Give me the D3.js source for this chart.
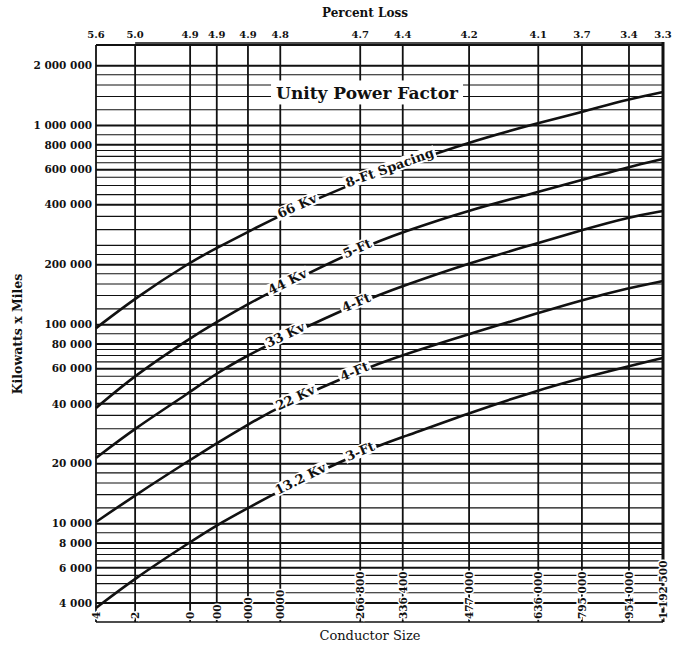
<!DOCTYPE html>
<html lang="en">
<head>
<meta charset="UTF-8">
<title>Kilowatts x Miles - Unity Power Factor</title>
<script src="https://cdn.jsdelivr.net/npm/d3@7/dist/d3.min.js"></script>
<style>
	body { margin: 0; background: #fff; }
	text { font-family: "DejaVu Serif", "Liberation Serif", serif; fill: #111; }
</style>
</head>
<body>
<div id="chart"></div>
<script>
// conductor sizes along the bottom
var sizes = ["4", "2", "0", "00", "000", "0000", "266 800", "336 400", "477 000", "636 000", "795 000", "954 000", "1 192 500"];
// where each size sits on the chart's conductor scale (% of scale length)
var sizePos = [0, 6.9, 16.6, 21.3, 26.8, 32.5, 46.6, 54.1, 65.8, 78.0, 85.7, 94.0, 100];
// percent loss printed above each size
var percentLoss = ["5.6", "5.0", "4.9", "4.9", "4.9", "4.8", "4.7", "4.4", "4.2", "4.1", "3.7", "3.4", "3.3"];

// kilowatt-miles for each voltage, one value per conductor size
var kv66  = [96000, 136000, 206000, 243000, 292000, 355000, 533000, 634000, 827000, 1031000, 1170000, 1360000, 1475000];
var kv44  = [38100, 55800, 85600, 103000, 127000, 154500, 242600, 292000, 376600, 463800, 533000, 619500, 679500];
var kv33  = [21400, 30200, 45800, 57100, 70200, 84700, 130000, 156300, 203900, 257000, 298800, 347300, 372300];
var kv22  = [10200, 13900, 20900, 25400, 31500, 39000, 59100, 70400, 89700, 114400, 132900, 152800, 165600];
var kv132 = [3770, 5330, 8080, 9840, 11980, 14700, 22900, 27200, 36000, 46900, 53900, 62000, 68000];

var curveNames   = ["66 Kv", "44 Kv", "33 Kv", "22 Kv", "13.2 Kv"];
var spacingNames = ["8-Ft Spacing", "5-Ft", "4-Ft", "4-Ft", "3-Ft"];
// label places, in conductor-scale units
var namePos    = [35.6, 33.9, 33.5, 35.3, 36.2];
var spacingPos = [51.9, 46.2, 46.0, 45.7, 46.7];

var yTicks = [4000, 6000, 8000, 10000, 20000, 40000, 60000, 80000, 100000,
	200000, 400000, 600000, 800000, 1000000, 2000000];

var W = 678, H = 649;
var pLeft = 96, pRight = 663, pTop = 45, pBottom = 612, axisBase = 622;

var svg = d3.select("#chart").append("svg")
	.attr("width", W).attr("height", H);

var x = d3.scaleLinear().domain([0, 100]).range([pLeft, pRight]);
var y = d3.scaleLog().domain([3600, 2540000]).range([pBottom, pTop]);

// horizontal grid (log paper)
var mant = [1, 1.2, 1.4, 1.6, 1.8, 2, 2.25, 2.5, 3, 3.5, 4, 4.5, 5, 5.5, 6, 6.5, 7, 7.5, 8, 9];
var gridVals = [];
for (var e = 3; e <= 6; e++) {
	mant.forEach(function(m){
		var v = m * Math.pow(10, e);
		if (v > 3600 && v <= 2000000) gridVals.push(v);
	});
}
svg.append("g").selectAll("line").data(gridVals).enter().append("line")
	.attr("x1", pLeft).attr("x2", pRight)
	.attr("y1", function(d){ return y(d); })
	.attr("y2", function(d){ return y(d); })
	.attr("stroke", "#111")
	.attr("stroke-width", function(d){ return yTicks.indexOf(d) >= 0 ? 2 : 1.1; });

// vertical grid at each conductor size
svg.append("g").selectAll("line").data(sizePos).enter().append("line")
	.attr("x1", function(d){ return x(d); })
	.attr("x2", function(d){ return x(d); })
	.attr("y1", pTop).attr("y2", axisBase)
	.attr("stroke", "#111").attr("stroke-width", 1.8);

// frame
svg.append("line").attr("x1", pLeft).attr("x2", pRight).attr("y1", pTop).attr("y2", pTop)
	.attr("stroke", "#111").attr("stroke-width", 2.2);
svg.append("line").attr("x1", x(sizePos[1])).attr("x2", pRight).attr("y1", pTop - 2).attr("y2", pTop - 2)
	.attr("stroke", "#111").attr("stroke-width", 1.6);
svg.append("line").attr("x1", pLeft).attr("x2", pRight).attr("y1", axisBase).attr("y2", axisBase)
	.attr("stroke", "#111").attr("stroke-width", 1.6);
svg.append("line").attr("x1", pRight).attr("x2", pRight).attr("y1", pTop - 3).attr("y2", axisBase)
	.attr("stroke", "#111").attr("stroke-width", 3);

// Unity Power Factor box
var upf = svg.append("g").attr("transform", "translate(" + x(47.8) + "," + y(1450000) + ")");
upf.append("rect").attr("x", -96).attr("y", -13).attr("width", 192).attr("height", 24).attr("fill", "#fff");
upf.append("text").attr("text-anchor", "middle").attr("dy", "0.35em")
	.style("font-size", "17px").style("font-weight", "bold")
	.text("Unity Power Factor");

// curves
var series = [kv66, kv44, kv33, kv22, kv132];
var line = d3.line()
	.x(function(d, i){ return x(sizePos[i]); })
	.y(function(d){ return y(d); })
	.curve(d3.curveBasis);

var paths = svg.append("g").selectAll("path").data(series).enter().append("path")
	.attr("d", line)
	.attr("fill", "none")
	.attr("stroke", "#111")
	.attr("stroke-width", 2.6);

// find point on a drawn curve at a given screen x
function pointAt(node, px) {
	var len = node.getTotalLength(), lo = 0, hi = len;
	for (var k = 0; k < 40; k++) {
		var mid = (lo + hi) / 2;
		if (node.getPointAtLength(mid).x < px) lo = mid; else hi = mid;
	}
	var p = node.getPointAtLength(lo);
	var a = node.getPointAtLength(Math.max(0, lo - 8));
	var b = node.getPointAtLength(Math.min(len, lo + 8));
	return { x: p.x, y: p.y, angle: Math.atan2(b.y - a.y, b.x - a.x) * 180 / Math.PI };
}

// labels sit on the curve and break it
var labels = svg.append("g");
paths.each(function(d, i){
	var node = this;
	[[curveNames[i], namePos[i]], [spacingNames[i], spacingPos[i]]].forEach(function(l){
		var p = pointAt(node, x(l[1]));
		var g = labels.append("g")
			.attr("transform", "translate(" + p.x + "," + p.y + ") rotate(" + p.angle + ")");
		var bg = g.append("rect").attr("fill", "#fff");
		var t = g.append("text")
			.attr("text-anchor", "middle")
			.attr("dy", "0.2em")
			.style("font-size", "13px").style("font-weight", "bold")
			.text(l[0]);
		var bb = t.node().getBBox();
		bg.attr("x", bb.x - 2).attr("y", bb.y + 1).attr("width", bb.width + 4).attr("height", bb.height - 2);
	});
});

// left axis labels
svg.append("g").selectAll("text").data(yTicks).enter().append("text")
	.attr("x", pLeft - 4)
	.attr("y", function(d){ return y(d); })
	.attr("dy", "0.35em")
	.attr("text-anchor", "end")
	.style("font-size", "10.5px").style("font-weight", "bold")
	.text(function(d){ return d3.format(",")(d).replace(/,/g, " "); });

// percent loss along the top
svg.append("g").selectAll("text").data(percentLoss).enter().append("text")
	.attr("x", function(d, i){ return x(sizePos[i]); })
	.attr("y", pTop - 7)
	.attr("text-anchor", "middle")
	.style("font-size", "10px").style("font-weight", "bold")
	.text(function(d){ return d; });

// conductor sizes, written upward at the bottom
svg.append("g").selectAll("text").data(sizes).enter().append("text")
	.attr("transform", function(d, i){ return "translate(" + (x(sizePos[i]) + 4) + "," + (axisBase - 3) + ") rotate(-90)"; })
	.attr("text-anchor", "start")
	.style("font-size", "10.5px").style("font-weight", "bold")
	.attr("stroke", "#fff").attr("stroke-width", 3).attr("paint-order", "stroke")
	.text(function(d){ return d; });

// titles
svg.append("text").attr("x", 365).attr("y", 17).attr("text-anchor", "middle")
	.style("font-size", "12px").style("font-weight", "bold").text("Percent Loss");
svg.append("text").attr("x", 370).attr("y", 640).attr("text-anchor", "middle")
	.style("font-size", "13px").text("Conductor Size");
svg.append("text").attr("transform", "translate(22,334) rotate(-90)").attr("text-anchor", "middle")
	.style("font-size", "12.5px").style("font-weight", "bold").text("Kilowatts x Miles");
</script>
</body>
</html>
